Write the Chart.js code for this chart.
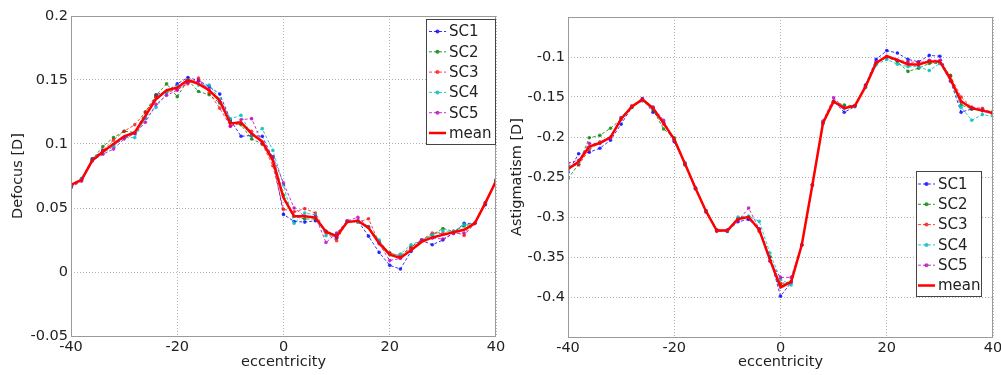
<!DOCTYPE html>
<html>
<head>
<meta charset="utf-8">
<script src="https://cdn.jsdelivr.net/npm/chart.js@4.4.0/dist/chart.umd.min.js"></script>
<style>
  html, body { margin: 0; padding: 0; background: #fff; }
  #wrap { position: relative; width: 1001px; height: 375px; }
  canvas { position: absolute; top: 0; }
</style>
</head>
<body>
<div id="wrap">
  <canvas id="defocus" width="512" height="375" style="left:0"></canvas>
  <canvas id="astig" width="501" height="375" style="left:500px"></canvas>
</div>
<script>
const ecc = [-40,-38,-36,-34,-32,-30,-28,-26,-24,-22,-20,-18,-16,-14,-12,-10,-8,-6,-4,-2,0,2,4,6,8,10,12,14,16,18,20,22,24,26,28,30,32,34,36,38,40];
const eccTicks = [-40, -20, 0, 20, 40];
const defocusTicks = [-0.05, 0, 0.05, 0.1, 0.15, 0.2];
const astigTicks = [-0.4, -0.35, -0.3, -0.25, -0.2, -0.15, -0.1];
const nomes = ['SC1', 'SC2', 'SC3', 'SC4', 'SC5', 'mean'];

// Defocus [D]
const defSC1 = [.068,.073,.0885,.095,.0995,.105,.1085,.120,.1385,.141,.147,.152,.1495,.145,.139,.119,.106,.1067,.106,.089,.045,.0395,.039,.040,.0317,.0265,.0395,.040,.028,.0153,.0052,.0023,.016,.0247,.0213,.025,.0305,.038,.038,.0526,.0716];
const defSC2 = [.066,.072,.088,.098,.105,.110,.109,.125,.138,.147,.137,.150,.141,.1385,.132,.117,.115,.104,.100,.090,.060,.0435,.0414,.0414,.0317,.028,.0395,.0395,.0356,.024,.0148,.0117,.0195,.0247,.029,.034,.0317,.036,.038,.054,.072];
const defSC3 = [.067,.072,.087,.095,.103,.110,.115,.125,.137,.140,.143,.147,.1515,.140,.128,.114,.116,.110,.100,.083,.049,.047,.0495,.046,.0305,.0245,.0395,.039,.0416,.0227,.0148,.0127,.0195,.025,.0305,.030,.0317,.0286,.038,.054,.071];
const defSC4 = [.067,.073,.087,.093,.098,.105,.105,.120,.1286,.140,.145,.150,.146,.146,.135,.1197,.1224,.107,.112,.095,.068,.038,.046,.0447,.0283,.0296,.040,.039,.035,.025,.0135,.014,.0213,.0247,.029,.032,.0317,.037,.038,.054,.071];
const defSC5 = [.066,.071,.087,.092,.096,.104,.108,.117,.131,.138,.142,.148,.149,.143,.133,.1138,.119,.1198,.101,.090,.0695,.050,.0435,.0435,.023,.0305,.040,.0427,.035,.022,.009,.0105,.0174,.025,.0265,.0258,.030,.0305,.038,.054,.071];
const defMean = [.068,.072,.087,.094,.100,.106,.109,.122,.135,.142,.144,.150,.147,.142,.134,.116,.117,.108,.102,.087,.058,.0435,.0435,.0425,.0315,.028,.039,.040,.0345,.0225,.0135,.011,.017,.0235,.027,.029,.031,.033,.038,.054,.071];

// Astigmatism [D]
const astSC1 = [-.244,-.221,-.219,-.214,-.204,-.184,-.163,-.152,-.169,-.182,-.206,-.233,-.265,-.293,-.317,-.318,-.306,-.303,-.315,-.350,-.399,-.382,-.335,-.260,-.183,-.155,-.169,-.162,-.135,-.103,-.092,-.095,-.103,-.106,-.098,-.099,-.130,-.169,-.165,-.167,-.171];
const astSC2 = [-.252,-.234,-.201,-.198,-.189,-.178,-.163,-.154,-.166,-.190,-.201,-.235,-.264,-.292,-.316,-.317,-.303,-.299,-.317,-.350,-.385,-.381,-.335,-.260,-.182,-.156,-.160,-.161,-.138,-.108,-.100,-.106,-.118,-.114,-.108,-.108,-.123,-.160,-.165,-.167,-.168];
const astSC3 = [-.237,-.235,-.216,-.206,-.200,-.176,-.161,-.153,-.163,-.184,-.203,-.233,-.264,-.293,-.318,-.317,-.302,-.300,-.318,-.355,-.383,-.381,-.335,-.260,-.182,-.156,-.164,-.161,-.137,-.107,-.099,-.104,-.106,-.107,-.105,-.107,-.124,-.150,-.163,-.164,-.171];
const astSC4 = [-.236,-.232,-.213,-.207,-.201,-.177,-.162,-.155,-.163,-.182,-.204,-.232,-.263,-.293,-.316,-.317,-.300,-.299,-.3055,-.345,-.378,-.385,-.335,-.260,-.183,-.157,-.164,-.161,-.138,-.110,-.103,-.109,-.112,-.112,-.117,-.108,-.130,-.163,-.179,-.172,-.174];
const astSC5 = [-.2325,-.229,-.208,-.208,-.202,-.176,-.162,-.154,-.163,-.179,-.205,-.234,-.264,-.294,-.317,-.316,-.305,-.2888,-.315,-.355,-.3755,-.3755,-.335,-.260,-.180,-.151,-.163,-.161,-.136,-.106,-.100,-.104,-.108,-.110,-.104,-.104,-.130,-.156,-.163,-.166,-.170];
const astMean = [-.240,-.231,-.212,-.2075,-.2005,-.1775,-.162,-.153,-.164,-.183,-.203,-.233,-.264,-.293,-.317,-.317,-.3025,-.300,-.316,-.353,-.388,-.381,-.335,-.260,-.1825,-.1555,-.164,-.161,-.137,-.1075,-.099,-.1035,-.1095,-.1095,-.1055,-.1055,-.128,-.1555,-.164,-.167,-.170];

const cores = ['rgba(0,0,255,0.8)', 'rgba(0,128,0,0.8)', 'rgba(255,0,0,0.75)', 'rgba(0,191,191,0.85)', 'rgba(191,0,191,0.8)', '#ff0000'];

Chart.defaults.font.family = "'DejaVu Sans', sans-serif";
Chart.defaults.font.size = 14;
Chart.defaults.color = '#222';

function montarSeries(listas) {
    return listas.map((valores, i) => {
        const media = i === 5;
        return {
            label: nomes[i],
            data: valores.map((v, k) => ({ x: ecc[k], y: v })),
            borderColor: cores[i],
            backgroundColor: cores[i],
            borderWidth: media ? 2.5 : 1,
            borderDash: media ? [] : [3, 2],
            pointRadius: media ? 0 : 1.8,
            pointBorderWidth: 0,
            pointBackgroundColor: cores[i],
            tension: 0,
            order: 5 - i
        };
    });
}

// moldura + legenda dentro da area do grafico
const moldura = {
    id: 'moldura',
    afterDatasetsDraw(chart, args, opts) {
        const { ctx, chartArea: a } = chart;
        ctx.save();
        ctx.strokeStyle = '#9a9a9a';
        ctx.lineWidth = 1;
        ctx.strokeRect(Math.round(a.left) + 0.5, Math.round(a.top) + 0.5, Math.round(a.right - a.left) - 1, Math.round(a.bottom - a.top));

        const L = opts.legenda;
        ctx.fillStyle = '#fff';
        ctx.fillRect(L.x, L.y, L.w, L.h);
        ctx.strokeStyle = '#444';
        ctx.strokeRect(L.x + 0.5, L.y + 0.5, L.w - 1, L.h - 1);
        chart.data.datasets.forEach((ds, i) => {
            const y = L.row0 + i * L.step;
            ctx.strokeStyle = ds.borderColor;
            ctx.lineWidth = ds.borderWidth;
            ctx.setLineDash(ds.borderDash);
            ctx.beginPath();
            ctx.moveTo(L.x1, y);
            ctx.lineTo(L.x2, y);
            ctx.stroke();
            ctx.setLineDash([]);
            if (ds.pointRadius > 0) {
                ctx.fillStyle = ds.borderColor;
                ctx.beginPath();
                ctx.arc((L.x1 + L.x2) / 2, y, 2, 0, Math.PI * 2);
                ctx.fill();
            }
            ctx.fillStyle = '#222';
            ctx.font = "15px 'DejaVu Sans'";
            ctx.textBaseline = 'middle';
            ctx.textAlign = 'left';
            ctx.fillText(ds.label, L.tx, y + 1);
        });
        ctx.restore();
    }
};

function montarGrafico(id, listas, yMin, yMax, yTicks, titulo, geo) {
    return new Chart(document.getElementById(id), {
        type: 'line',
        data: { datasets: montarSeries(listas) },
        plugins: [moldura],
        options: {
            responsive: false,
            animation: false,
            events: [],
            layout: { padding: geo.padding },
            plugins: {
                legend: { display: false },
                tooltip: { enabled: false },
                moldura: { legenda: geo.legenda }
            },
            scales: {
                x: {
                    type: 'linear',
                    min: -40, max: 40,
                    afterBuildTicks: s => { s.ticks = eccTicks.map(v => ({ value: v })); },
                    afterFit: s => { s.height = geo.xHeight; s.paddingLeft = 0; s.paddingRight = 0; },
                    ticks: { padding: 3, maxRotation: 0, font: { size: 14.5 } },
                    grid: { color: '#b4b4b4', lineWidth: 1, drawTicks: false },
                    border: { display: false, dash: [1, 2] },
                    title: { display: true, text: 'eccentricity', font: { size: 14.5 }, padding: { top: 0, bottom: 4 } }
                },
                y: {
                    min: yMin, max: yMax,
                    afterBuildTicks: s => { s.ticks = yTicks.map(v => ({ value: v })); },
                    afterFit: s => { s.width = geo.yWidth; s.paddingTop = 0; s.paddingBottom = 0; },
                    ticks: { padding: 3, font: { size: 14.5 }, callback: v => String(+v.toFixed(2)) },
                    grid: { color: '#b4b4b4', lineWidth: 1, drawTicks: false },
                    border: { display: false, dash: [1, 2] },
                    title: { display: true, text: titulo, font: { size: 14.5 }, padding: { top: geo.titlePad, bottom: 0 } }
                }
            }
        }
    });
}

montarGrafico('defocus', [defSC1, defSC2, defSC3, defSC4, defSC5, defMean], -0.05, 0.2, defocusTicks, 'Defocus [D]', {
    padding: { top: 16, right: 16, left: 0, bottom: 0 },
    yWidth: 71, xHeight: 39, titlePad: 10,
    legenda: { x: 426, y: 19, w: 70, h: 126, row0: 31.5, step: 20.3, x1: 429, x2: 446, tx: 449 }
});

montarGrafico('astig', [astSC1, astSC2, astSC3, astSC4, astSC5, astMean], -0.45, -0.05, astigTicks, 'Astigmatism [D]', {
    padding: { top: 17, right: 8, left: 0, bottom: 0 },
    yWidth: 68, xHeight: 38, titlePad: 8.5,
    legenda: { x: 416, y: 171, w: 66, h: 126, row0: 184, step: 20.3, x1: 418, x2: 435, tx: 438 }
});
</script>
</body>
</html>
